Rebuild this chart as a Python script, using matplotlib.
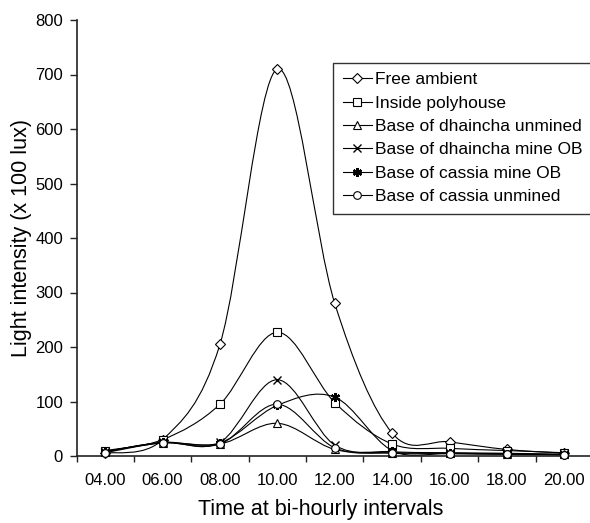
import matplotlib
matplotlib.use("Agg")
import matplotlib.pyplot as plt
from matplotlib.path import Path
from matplotlib.patches import PathPatch
from matplotlib.lines import Line2D
from matplotlib import font_manager
import numpy as np

# ---- data ----
times = ['04.00', '06.00', '08.00', '10.00', '12.00', '14.00', '16.00', '18.00', '20.00']
free_ambient = [5, 30, 205, 710, 280, 42, 26, 12, 5]
inside_polyhouse = [10, 30, 95, 227, 98, 22, 14, 10, 6]
dhaincha_unmined = [8, 24, 22, 60, 12, 6, 5, 4, 3]
dhaincha_mine_ob = [8, 25, 25, 140, 20, 8, 6, 5, 3]
cassia_mine_ob = [8, 25, 24, 93, 108, 10, 5, 4, 2]
cassia_unmined = [6, 24, 22, 95, 15, 5, 4, 3, 2]

series_labels = ['Free ambient', 'Inside polyhouse', 'Base of dhaincha unmined',
                 'Base of dhaincha mine OB', 'Base of cassia mine OB', 'Base of cassia unmined']
series_values = [free_ambient, inside_polyhouse, dhaincha_unmined,
                 dhaincha_mine_ob, cassia_mine_ob, cassia_unmined]

# ---- styles ----
avail = {f.name for f in font_manager.fontManager.ttflist}
main_font = ['Liberation Sans', 'DejaVu Sans']
tick_font = ['Liberation Sans Narrow', 'Liberation Sans', 'DejaVu Sans'] if 'Liberation Sans Narrow' in avail else ['Liberation Sans', 'DejaVu Sans']
plt.rcParams['font.family'] = main_font

markers = [
    dict(marker='D', ms=5, mfc='white', mec='black', mew=0.8),
    dict(marker='s', ms=5.5, mfc='white', mec='black', mew=0.8),
    dict(marker='^', ms=6, mfc='white', mec='black', mew=0.8),
    dict(marker='x', ms=5.5, mfc='black', mec='black', mew=1.0),
    dict(marker=(6, 2, 0), ms=6.5, mfc='black', mec='black', mew=1.6),
    dict(marker='o', ms=5.5, mfc='white', mec='black', mew=0.8),
]

W, H = 590, 523
fig = plt.figure(figsize=(W / 100, H / 100), dpi=100)
left, right, bottom, top = 76.5, 593, 456, 20
ax = fig.add_axes([left / W, (H - bottom) / H, (right - left) / W, (bottom - top) / H])
ax.set_xlim(-0.5, 8.5)
ax.set_ylim(0, 800)


def smooth_path(xs, ys):
    pts = np.column_stack([xs, ys]).astype(float)
    n = len(pts)
    verts = [pts[0]]
    codes = [Path.MOVETO]
    for i in range(n - 1):
        p0 = pts[i - 1] if i > 0 else pts[i]
        p1 = pts[i]
        p2 = pts[i + 1]
        p3 = pts[i + 2] if i + 2 < n else pts[i + 1]
        c1 = p1 + (p2 - p0) / 6.0
        c2 = p2 - (p3 - p1) / 6.0
        verts += [c1, c2, p2]
        codes += [Path.CURVE4] * 3
    return Path(verts, codes)


x = np.arange(len(times))
handles = []
for vals, lab, mk in zip(series_values, series_labels, markers):
    patch = PathPatch(smooth_path(x, vals), facecolor='none', edgecolor='black',
                      lw=0.8, zorder=2, clip_on=False)
    ax.add_patch(patch)
    ax.plot(x, vals, linestyle='none', zorder=3, clip_on=False, **mk)
    handles.append(Line2D([], [], color='black', lw=0.8, **mk))

for s in ['top', 'right']:
    ax.spines[s].set_visible(False)
for s in ['left', 'bottom']:
    ax.spines[s].set_linewidth(1.2)
    ax.spines[s].set_color('#222222')

ax.set_yticks(np.arange(0, 801, 100))
ax.set_yticklabels([str(v) for v in range(0, 801, 100)], fontsize=12, family=tick_font)
ax.tick_params(axis='y', direction='out', length=4.7, width=1, pad=5, color='#222222')

ax.set_xticks(np.arange(-0.5, 8.6, 1.0))
ax.set_xticklabels([])
ax.set_xticks(x, minor=True)
ax.set_xticklabels(times, minor=True, fontsize=12, family=tick_font)
ax.tick_params(axis='x', which='major', direction='out', length=4.5, width=1, color='#222222')
ax.tick_params(axis='x', which='minor', length=0, pad=12)

fig.text(22 / W, 1 - 238 / H, 'Light intensity (x 100 lux)', rotation=90,
         ha='center', va='center', fontsize=15.5)
fig.text(320.5 / W, 1 - 510 / H, 'Time at bi-hourly intervals',
         ha='center', va='center', fontsize=15.5)

leg = fig.legend(handles, series_labels, loc='upper left',
                 bbox_to_anchor=(333 / W, 1 - 62.7 / H), bbox_transform=fig.transFigure,
                 fontsize=12.5, frameon=True, fancybox=False, shadow=False,
                 borderpad=0.55, labelspacing=0.47, handlelength=1.7,
                 handletextpad=0.17, borderaxespad=0)
leg.get_frame().set_edgecolor('black')
leg.get_frame().set_linewidth(1.0)

fig.savefig('out.png', dpi=100)
